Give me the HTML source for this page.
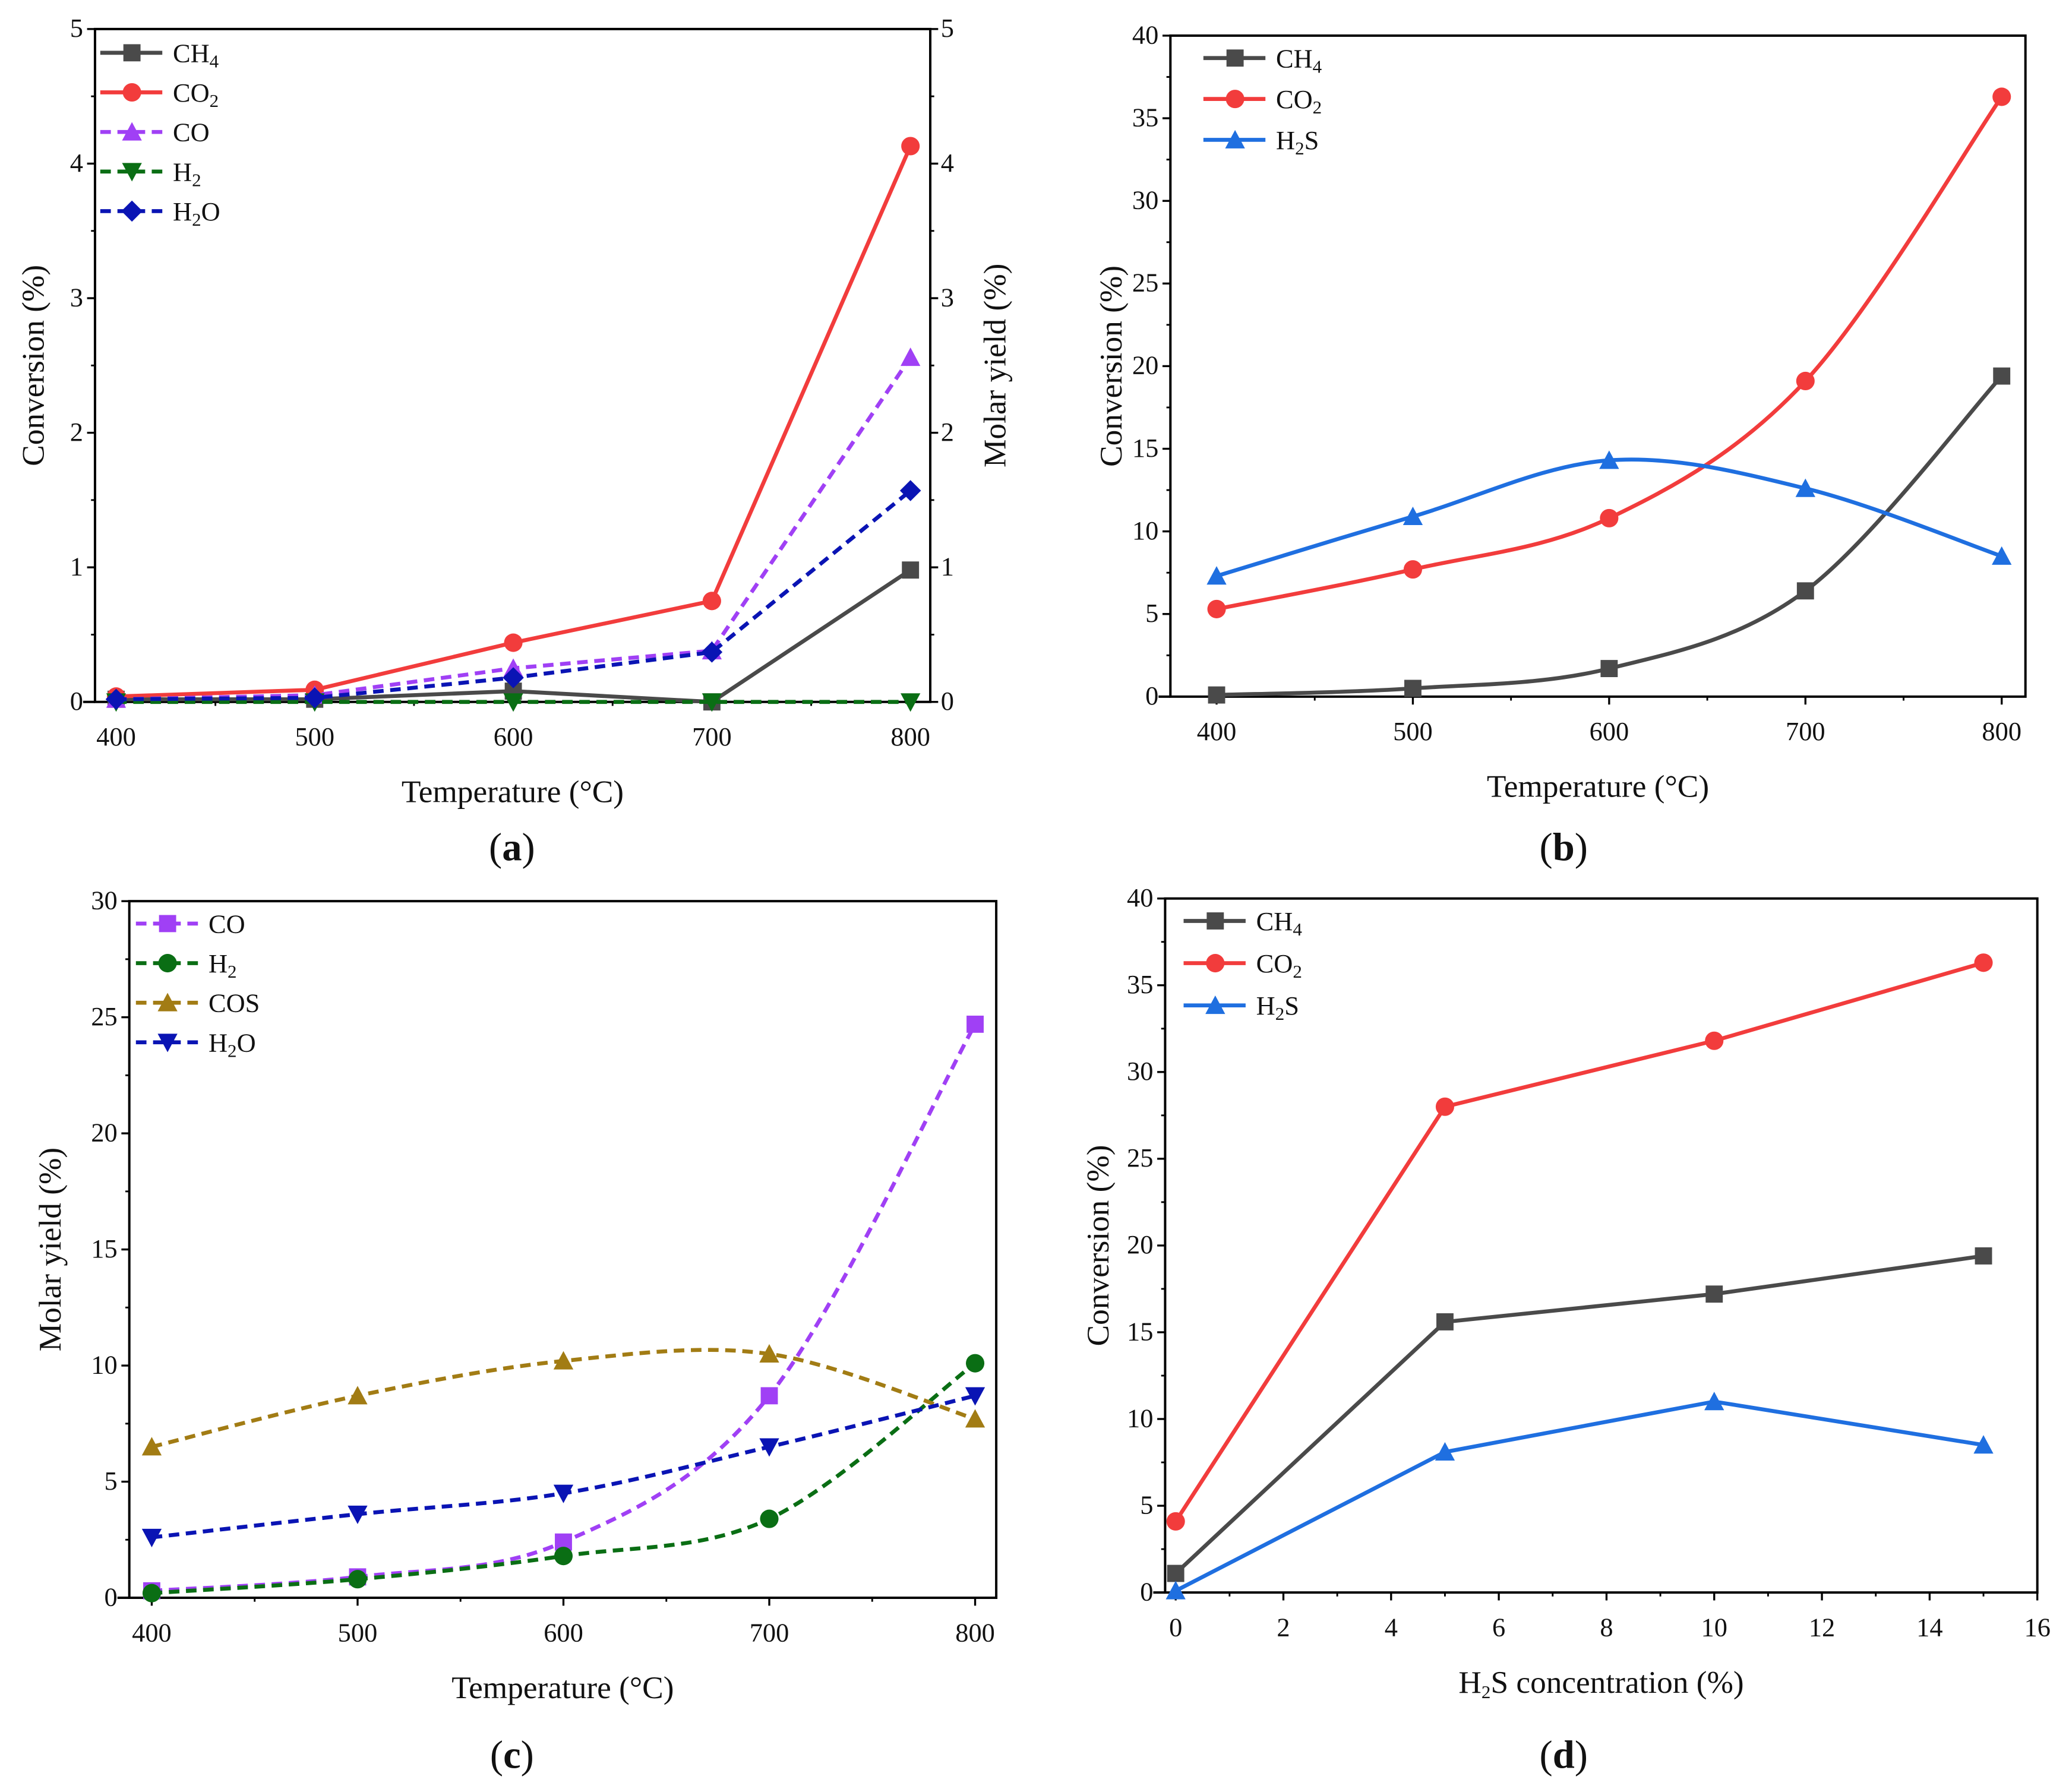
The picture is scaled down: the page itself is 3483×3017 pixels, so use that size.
<!DOCTYPE html>
<html><head><meta charset="utf-8"><style>
html,body{margin:0;padding:0;background:#fff}
svg{display:block}
text{font-family:"Liberation Serif",serif;fill:#111}
</style></head><body>
<svg id="fig" width="3483" height="3017" viewBox="0 0 1568 1358.2" xmlns="http://www.w3.org/2000/svg"></svg>
<script>
// ---------- data ----------
const tempCats = [400, 500, 600, 700, 800];
const a_CH4 = [0.02, 0.02, 0.08, 0.0, 0.98];
const a_CO2 = [0.04, 0.09, 0.44, 0.75, 4.13];
const a_CO  = [0.02, 0.05, 0.25, 0.38, 2.56];
const a_H2  = [0.0, 0.0, 0.0, 0.0, 0.0];
const a_H2O = [0.02, 0.03, 0.18, 0.37, 1.57];
const b_CH4 = [0.1, 0.5, 1.7, 6.4, 19.4];
const b_CO2 = [5.3, 7.7, 10.8, 19.1, 36.3];
const b_H2S = [7.3, 10.9, 14.3, 12.6, 8.5];
const c_CO  = [0.3, 0.9, 2.4, 8.7, 24.7];
const c_H2  = [0.2, 0.8, 1.8, 3.4, 10.1];
const c_COS = [6.5, 8.7, 10.2, 10.5, 7.7];
const c_H2O = [2.6, 3.6, 4.5, 6.5, 8.7];
const concCats = [0, 5, 10, 15];
const d_CH4 = [1.1, 15.6, 17.2, 19.4];
const d_CO2 = [4.1, 28.0, 31.8, 36.3];
const d_H2S = [0.1, 8.1, 11.0, 8.5];
const aYTicks = [0, 1, 2, 3, 4, 5];
const bYTicks = [0, 5, 10, 15, 20, 25, 30, 35, 40];
const cYTicks = [0, 5, 10, 15, 20, 25, 30];
const tempTicks = [400, 500, 600, 700, 800];
const concTicks = [0, 2, 4, 6, 8, 10, 12, 14, 16];

const NS = "http://www.w3.org/2000/svg";
const svg = document.getElementById('fig');
function el(tag, attrs, parent) {
  const e = document.createElementNS(NS, tag);
  for (const k in attrs) e.setAttribute(k, attrs[k]);
  (parent || svg).appendChild(e);
  return e;
}
function mk(x, y, shape, color, g) {
  const s = 6.5;
  let m;
  if (shape === 'square') m = el('rect', {x: x - s, y: y - s, width: 2 * s, height: 2 * s, fill: color}, g);
  else if (shape === 'circle') m = el('circle', {cx: x, cy: y, r: s + 0.5, fill: color}, g);
  else if (shape === 'tri') m = el('polygon', {points: `${x},${y - s - 1} ${x + s + 1},${y + s} ${x - s - 1},${y + s}`, fill: color}, g);
  else if (shape === 'dtri') m = el('polygon', {points: `${x},${y + s + 1} ${x + s + 1},${y - s} ${x - s - 1},${y - s}`, fill: color}, g);
  else m = el('polygon', {points: `${x},${y - s - 1.5} ${x + s + 1.5},${y} ${x},${y + s + 1.5} ${x - s - 1.5},${y}`, fill: color}, g);
  
  
}
function pathD(pts, smooth) {
  if (!smooth) return 'M' + pts.map(p => p[0].toFixed(1) + ',' + p[1].toFixed(1)).join(' L');
  let d = 'M' + pts[0][0] + ',' + pts[0][1];
  for (let i = 0; i < pts.length - 1; i++) {
    const p0 = pts[i - 1] || pts[i], p1 = pts[i], p2 = pts[i + 1], p3 = pts[i + 2] || pts[i + 1];
    const c1 = [p1[0] + (p2[0] - p0[0]) / 6, p1[1] + (p2[1] - p0[1]) / 6];
    const c2 = [p2[0] - (p3[0] - p1[0]) / 6, p2[1] - (p3[1] - p1[1]) / 6];
    d += ` C${c1[0]},${c1[1]} ${c2[0]},${c2[1]} ${p2[0]},${p2[1]}`;
  }
  return d;
}
function txt(x, y, s, size, anchor, parent, name, rot) {
  const t = el('text', {x: x, y: y, 'font-size': size, 'text-anchor': anchor || 'middle'}, parent);
  t.innerHTML = s;
  if (rot) t.setAttribute('transform', `rotate(-90 ${x} ${y})`);
  
  
  return t;
}

function panel(cfg) {
  const g = el('g', {});
  
  
  const X = v => cfg.x0 + (v - cfg.xv0) / (cfg.xv1 - cfg.xv0) * (cfg.x1 - cfg.x0);
  const Y = v => cfg.B - (v - cfg.yv0) / (cfg.yv1 - cfg.yv0) * (cfg.B - cfg.T);
  const fr = el('rect', {x: cfg.L, y: cfg.T, width: cfg.R - cfg.L, height: cfg.B - cfg.T, fill: 'none', stroke: '#000', 'stroke-width': 1.8}, g);
  
  
  el('line', {x1: cfg.L - 9, y1: cfg.B, x2: cfg.L, y2: cfg.B, stroke: '#000', 'stroke-width': 1.8}, g);
  cfg.yTicks.forEach((v, i) => {
    el('line', {x1: cfg.L - 6, y1: Y(v), x2: cfg.L, y2: Y(v), stroke: '#000', 'stroke-width': 1.5}, g);
    if (i < cfg.yTicks.length - 1) {
      const m = (v + cfg.yTicks[i + 1]) / 2;
      el('line', {x1: cfg.L - 3, y1: Y(m), x2: cfg.L, y2: Y(m), stroke: '#000', 'stroke-width': 1.3}, g);
      if (cfg.right) el('line', {x1: cfg.R, y1: Y(m), x2: cfg.R + 3, y2: Y(m), stroke: '#000', 'stroke-width': 1.3}, g);
    }
    txt(cfg.L - 9, Y(v) + 6, v, 20, 'end', g, 'y-tick-label');
    if (cfg.right) {
      el('line', {x1: cfg.R, y1: Y(v), x2: cfg.R + 6, y2: Y(v), stroke: '#000', 'stroke-width': 1.5}, g);
      txt(cfg.R + 8, Y(v) + 6, v, 20, 'start', g, 'right-y-tick-label');
    }
  });
  cfg.xTicks.forEach((v, i) => {
    el('line', {x1: X(v), y1: cfg.B, x2: X(v), y2: cfg.B + 6, stroke: '#000', 'stroke-width': 1.5}, g);
    if (i < cfg.xTicks.length - 1) {
      const m = (v + cfg.xTicks[i + 1]) / 2;
      el('line', {x1: X(m), y1: cfg.B, x2: X(m), y2: cfg.B + 3, stroke: '#000', 'stroke-width': 1.3}, g);
    }
    txt(X(v), cfg.B + 33, v, 20, 'middle', g, 'x-tick-label');
  });
  txt((cfg.L + cfg.R) / 2, cfg.B + 76, cfg.xTitle, 24, 'middle', g, 'x-axis-title');
  txt(cfg.yTitleX, (cfg.T + cfg.B) / 2, cfg.yTitle, 24, 'middle', g, 'y-axis-title', true);
  if (cfg.rTitle) txt(cfg.rTitleX, (cfg.T + cfg.B) / 2, cfg.rTitle, 24, 'middle', g, 'right-y-axis-title', true);
  txt(cfg.labelX, cfg.labelY, cfg.label, 30, 'middle', g, 'panel-label');
  cfg.series.forEach((s, k) => {
    const sg = el('g', {}, g);
    
    
    const pts = s.vals.map((v, i) => [X(cfg.xs[i]), Y(v)]);
    el('path', {d: pathD(pts, cfg.smooth), fill: 'none', stroke: s.color, 'stroke-width': 3, 'stroke-dasharray': s.dash ? '8 5' : 'none'}, sg);
    pts.forEach(p => mk(p[0], p[1], s.shape, s.color, sg));
    const ly = cfg.legY + k * cfg.legDy;
    const lg = el('g', {}, g);
    
    
    el('line', {x1: cfg.legX, y1: ly, x2: cfg.legX + 47, y2: ly, stroke: s.color, 'stroke-width': 3, 'stroke-dasharray': s.dash ? '8 5' : 'none'}, lg);
    mk(cfg.legX + 24, ly, s.shape, s.color, lg);
    txt(cfg.legX + 55, ly + 7, s.label, 20, 'start', lg, 'legend-text');
  });
}
const sub = n => `<tspan font-size="14" baseline-shift="-30%">${n}</tspan>`;
const GRAY = '#4a4a4a', RED = '#f23c3c', PURP = '#a040f5', GRN = '#0a6e14', NAVY = '#0a14b4', BLUE = '#1f6fe0', BRN = '#a27c14';

panel({name: 'panel-a', L: 72, R: 705, T: 22, B: 532, x0: 88, x1: 690, xv0: 400, xv1: 800, yv0: 0, yv1: 5,
  xs: tempCats, xTicks: tempTicks, yTicks: aYTicks, right: true, smooth: false,
  xTitle: 'Temperature (°C)', yTitle: 'Conversion (%)', yTitleX: 33, rTitle: 'Molar yield (%)', rTitleX: 762,
  label: '(<tspan font-weight="bold">a</tspan>)', labelX: 388, labelY: 652, legX: 76, legY: 40, legDy: 30,
  series: [
    {key: 'ch4', label: 'CH' + sub(4), vals: a_CH4, color: GRAY, shape: 'square'},
    {key: 'co2', label: 'CO' + sub(2), vals: a_CO2, color: RED, shape: 'circle'},
    {key: 'co', label: 'CO', vals: a_CO, color: PURP, shape: 'tri', dash: true},
    {key: 'h2', label: 'H' + sub(2), vals: a_H2, color: GRN, shape: 'dtri', dash: true},
    {key: 'h2o', label: 'H' + sub(2) + 'O', vals: a_H2O, color: NAVY, shape: 'diamond', dash: true}]});

panel({name: 'panel-b', L: 887, R: 1535, T: 27, B: 528, x0: 922, x1: 1517, xv0: 400, xv1: 800, yv0: 0, yv1: 40,
  xs: tempCats, xTicks: tempTicks, yTicks: bYTicks, smooth: true,
  xTitle: 'Temperature (°C)', yTitle: 'Conversion (%)', yTitleX: 850,
  label: '(<tspan font-weight="bold">b</tspan>)', labelX: 1185, labelY: 652, legX: 912, legY: 44, legDy: 31,
  series: [
    {key: 'ch4', label: 'CH' + sub(4), vals: b_CH4, color: GRAY, shape: 'square'},
    {key: 'co2', label: 'CO' + sub(2), vals: b_CO2, color: RED, shape: 'circle'},
    {key: 'h2s', label: 'H' + sub(2) + 'S', vals: b_H2S, color: BLUE, shape: 'tri'}]});

panel({name: 'panel-c', L: 98, R: 755, T: 683, B: 1211, x0: 115, x1: 739, xv0: 400, xv1: 800, yv0: 0, yv1: 30,
  xs: tempCats, xTicks: tempTicks, yTicks: cYTicks, smooth: true,
  xTitle: 'Temperature (°C)', yTitle: 'Molar yield (%)', yTitleX: 46,
  label: '(<tspan font-weight="bold">c</tspan>)', labelX: 388, labelY: 1340, legX: 103, legY: 700, legDy: 30,
  series: [
    {key: 'co', label: 'CO', vals: c_CO, color: PURP, shape: 'square', dash: true},
    {key: 'h2', label: 'H' + sub(2), vals: c_H2, color: GRN, shape: 'circle', dash: true},
    {key: 'cos', label: 'COS', vals: c_COS, color: BRN, shape: 'tri', dash: true},
    {key: 'h2o', label: 'H' + sub(2) + 'O', vals: c_H2O, color: NAVY, shape: 'dtri', dash: true}]});

panel({name: 'panel-d', L: 883, R: 1544, T: 681, B: 1207, x0: 891, x1: 1544, xv0: 0, xv1: 16, yv0: 0, yv1: 40,
  xs: concCats, xTicks: concTicks, yTicks: bYTicks, smooth: false,
  xTitle: 'H' + sub(2) + 'S concentration (%)', yTitle: 'Conversion (%)', yTitleX: 840,
  label: '(<tspan font-weight="bold">d</tspan>)', labelX: 1185, labelY: 1340, legX: 897, legY: 698, legDy: 32,
  series: [
    {key: 'ch4', label: 'CH' + sub(4), vals: d_CH4, color: GRAY, shape: 'square'},
    {key: 'co2', label: 'CO' + sub(2), vals: d_CO2, color: RED, shape: 'circle'},
    {key: 'h2s', label: 'H' + sub(2) + 'S', vals: d_H2S, color: BLUE, shape: 'tri'}]});
</script>
</body></html>
